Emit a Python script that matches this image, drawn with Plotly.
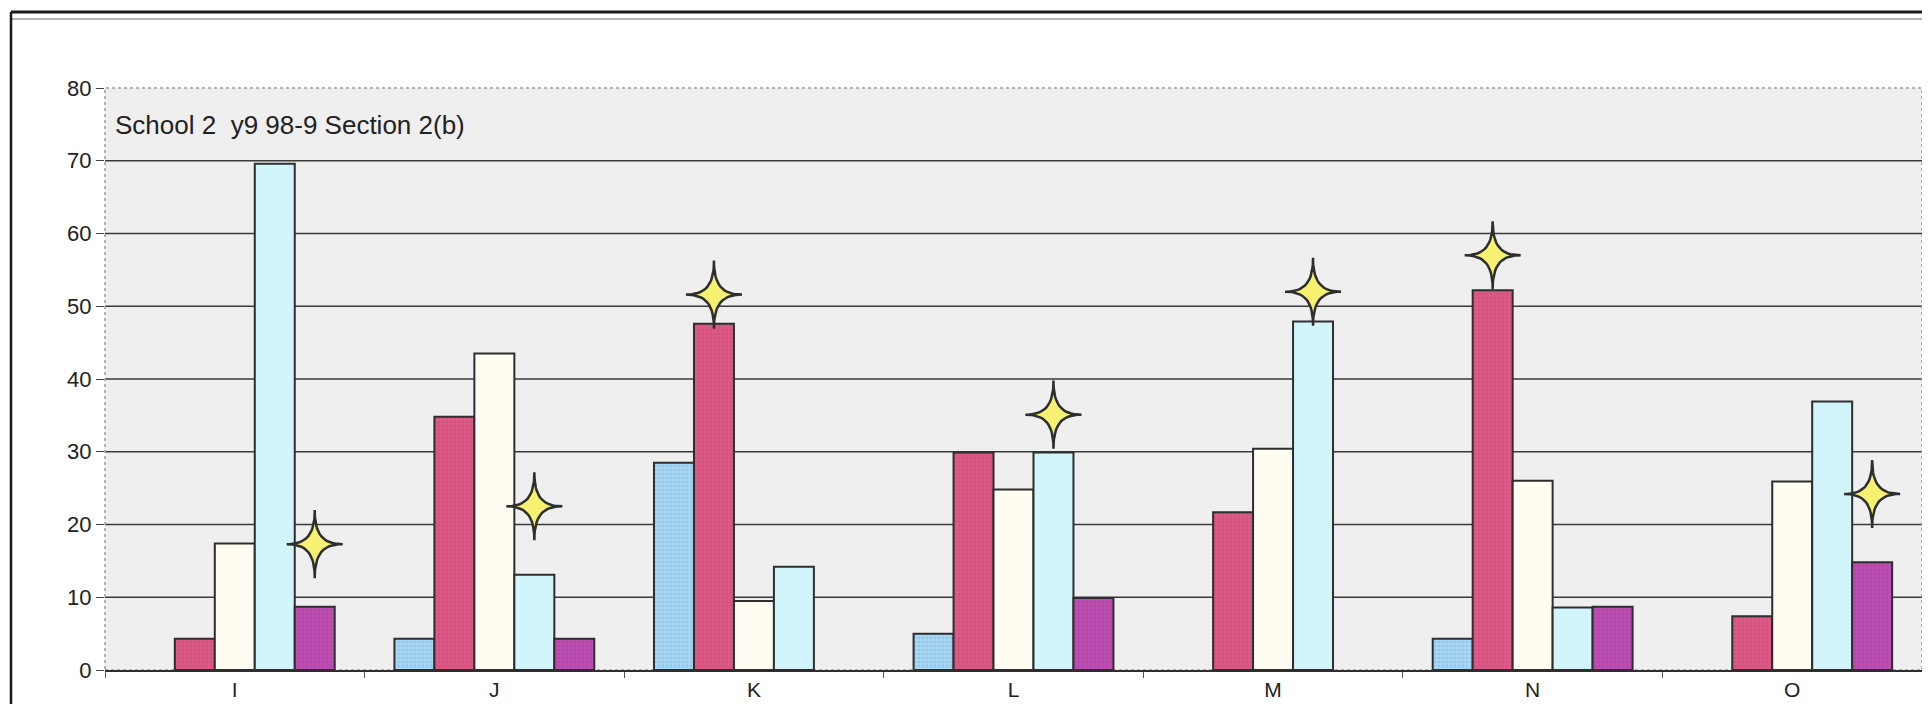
import math

import plotly.graph_objects as go

categories = ["I", "J", "K", "L", "M", "N", "O"]

# five answer groups per question, None where no bar was drawn
series_names = ["blue", "pink", "cream", "cyan", "purple"]
blue_vals = [None, 4.3, 28.5, 5.0, None, 4.3, None]
pink_vals = [4.3, 34.8, 47.6, 29.9, 21.7, 52.2, 7.4]
cream_vals = [17.4, 43.5, 9.5, 24.8, 30.4, 26.0, 25.9]
cyan_vals = [69.6, 13.1, 14.2, 29.9, 47.9, 8.6, 36.9]
purple_vals = [8.7, 4.3, None, 9.9, None, 8.7, 14.8]

# star markers: which bar they flag and the height they sit at
star_series = ["purple", "cyan", "pink", "cyan", "cyan", "pink", "purple"]
star_values = [17.3, 22.5, 51.6, 35.1, 52.0, 57.0, 24.2]

y_ticks = [0, 10, 20, 30, 40, 50, 60, 70, 80]

FILLS = {
    "blue": "#a9d6f2",
    "pink": "#dc5a86",
    "cream": "#fffdf1",
    "cyan": "#d2f5fb",
    "purple": "#bd4fb2",
}
PATTERNS = {"blue": "#7fb6e0", "pink": "#c94877", "purple": "#a33d99"}
FONT = "Liberation Sans, Arial, sans-serif"
BARGAP = 0.23

# page body keeps its default 8px margin, so the figure is sized to fit inside it
W, H = 1914, 696
M = {"l": 97, "r": 0, "t": 80, "b": 34}
Y_MAX = 80
px_x = (W - M["l"] - M["r"]) / len(categories)   # pixels per category
px_y = (H - M["t"] - M["b"]) / Y_MAX            # pixels per y unit

values = [blue_vals, pink_vals, cream_vals, cyan_vals, purple_vals]

fig = go.Figure()
for name, vals in zip(series_names, values):
    marker = {"color": FILLS[name], "line": {"color": "#2e2e2e", "width": 2}}
    if name in PATTERNS:
        marker["pattern"] = {
            "shape": ".",
            "fgcolor": PATTERNS[name],
            "size": 4,
            "solidity": 0.35,
        }
    fig.add_trace(go.Bar(x=categories, y=vals, name=name, marker=marker))


def star_outline(cx, cy, half_w=28, half_h=34, k=4.2, n=96):
    # four-pointed star with concave sides, size given in pixels
    xs, ys = [], []
    for j in range(n + 1):
        t = 2 * math.pi * j / n
        c, s = math.cos(t), math.sin(t)
        dx = half_w * math.copysign(abs(c) ** k, c)
        dy = half_h * math.copysign(abs(s) ** k, s)
        xs.append(cx + dx / px_x)
        ys.append(cy + dy / px_y)
    return xs, ys


bar_w = (1 - BARGAP) / len(series_names)
sx, sy = [], []
for i, (s, v) in enumerate(zip(star_series, star_values)):
    cx = i + (series_names.index(s) - (len(series_names) - 1) / 2) * bar_w
    xs, ys = star_outline(cx, v)
    sx += xs + [None]
    sy += ys + [None]

fig.add_trace(
    go.Scatter(
        x=sx,
        y=sy,
        xaxis="x2",
        mode="lines",
        fill="toself",
        fillcolor="#f6f170",
        line={"color": "#2e2e2e", "width": 2.5},
        hoverinfo="skip",
    )
)

for v in y_ticks[1:-1]:
    fig.add_hline(y=v, line={"color": "#3a3a3a", "width": 1.5}, layer="below")

# dotted plot-area border
fig.add_shape(
    type="rect", xref="x domain", yref="y domain", x0=0, x1=1, y0=0, y1=1,
    line={"color": "#9a9a9a", "width": 1.5, "dash": "dot"}, layer="below",
)

# scanned page frame, placed in pixels from the plot corner
plot_w = W - M["l"] - M["r"]
plot_h = H - M["t"] - M["b"]


def px_to_paper_x(px):
    return (px - 8 - M["l"]) / plot_w


def px_to_paper_y(py):
    return (H + 8 - M["b"] - py) / plot_h


fx = px_to_paper_x(11)
fig.add_shape(type="line", xref="paper", yref="paper", x0=fx, x1=1.02,
              y0=px_to_paper_y(12), y1=px_to_paper_y(12),
              line={"color": "#1a1a1a", "width": 3})
fig.add_shape(type="line", xref="paper", yref="paper", x0=fx, x1=1.02,
              y0=px_to_paper_y(19), y1=px_to_paper_y(19),
              line={"color": "#666666", "width": 1})
fig.add_shape(type="line", xref="paper", yref="paper", x0=fx, x1=fx,
              y0=px_to_paper_y(720), y1=px_to_paper_y(12),
              line={"color": "#1a1a1a", "width": 2.5})

fig.add_annotation(
    text="School 2  y9 98-9 Section 2(b)",
    xref="paper", yref="paper", x=px_to_paper_x(113), y=px_to_paper_y(125),
    xanchor="left", yanchor="middle",
    showarrow=False, font={"size": 26, "color": "#222222", "family": FONT},
)

fig.update_layout(
    width=W,
    height=H,
    barmode="group",
    bargap=BARGAP,
    bargroupgap=0,
    showlegend=False,
    paper_bgcolor="white",
    plot_bgcolor="#efefef",
    margin=M,
    font={"family": FONT, "size": 21, "color": "#222222"},
    xaxis={
        "showgrid": False,
        "showline": True,
        "linecolor": "#2e2e2e",
        "linewidth": 2,
        "ticks": "outside",
        "tickson": "boundaries",
        "ticklen": 6,
        "tickcolor": "#555555",
        "tickfont": {"size": 21},
    },
    xaxis2={
        "overlaying": "x",
        "range": [-0.5, len(categories) - 0.5],
        "visible": False,
    },
    yaxis={
        "range": [0, Y_MAX],
        "tickvals": y_ticks,
        "showgrid": False,
        "zeroline": False,
        "ticks": "outside",
        "ticklen": 8,
        "tickcolor": "#444444",
        "tickfont": {"size": 22},
    },
)

fig.write_html("out.html")
